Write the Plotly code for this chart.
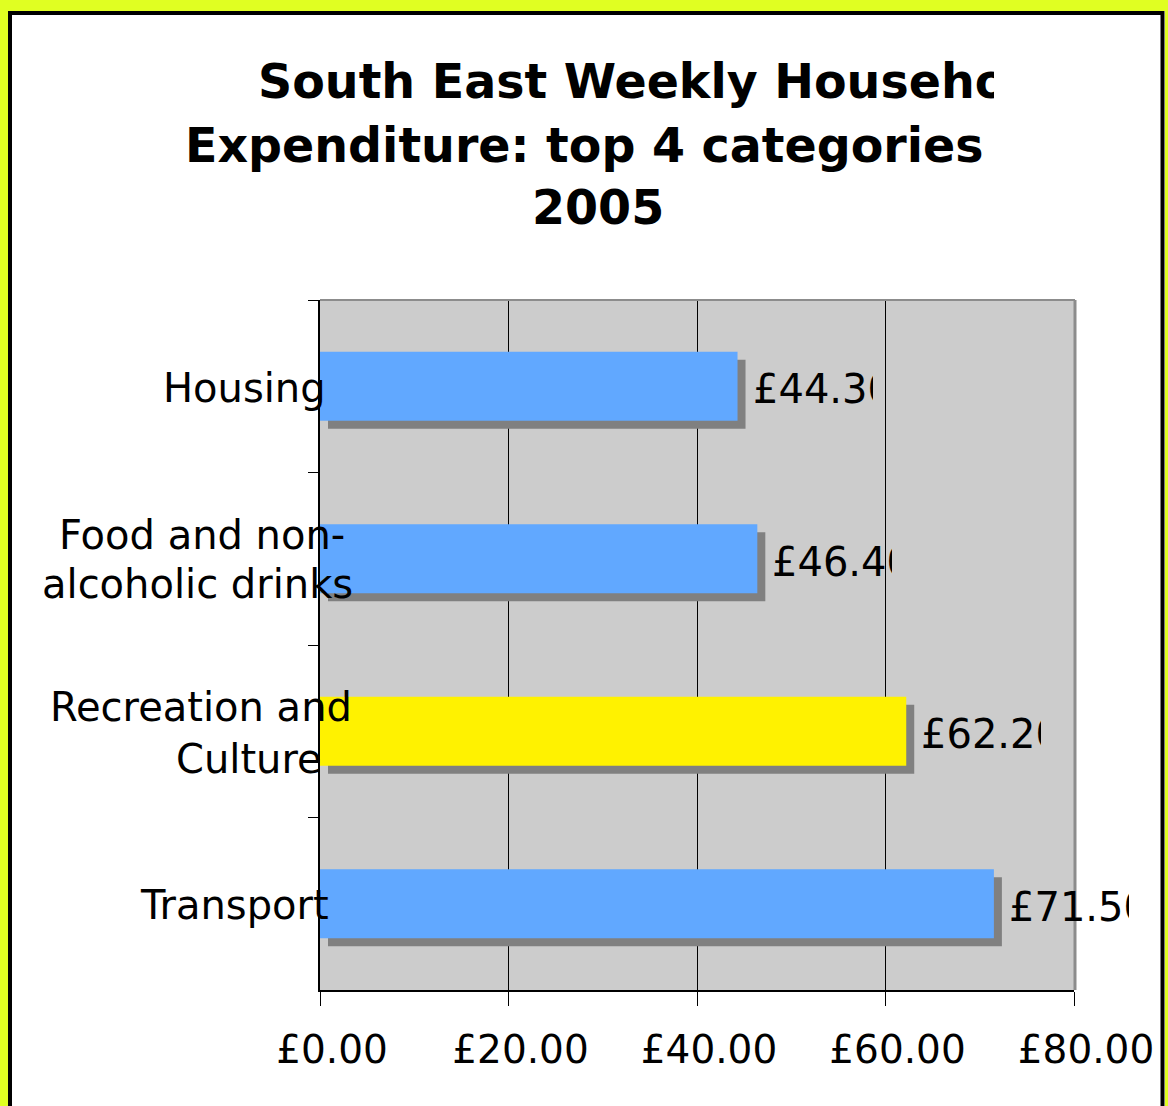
import plotly.graph_objects as go

# ---------------- data ----------------
categories = ["Housing", "Food and non-alcoholic drinks", "Recreation and Culture", "Transport"]
values = [44.30, 46.40, 62.20, 71.50]
bar_colors = ["#61A8FF", "#61A8FF", "#FFF200", "#61A8FF"]
label_lines = [["Housing"], ["Food and non-", "alcoholic drinks"], ["Recreation and", "Culture"], ["Transport"]]
x_ticks = [0, 20, 40, 60, 80]
x_tick_labels = ["£0.00", "£20.00", "£40.00", "£60.00", "£80.00"]
title_lines = ["South East Weekly Household", "Expenditure: top 4 categories", "2005"]

# ---------------- layout constants (pixels) ----------------
W, H = 1168, 1106
PL, PR, PT, PB = 320, 1074, 300, 990
XMAX = 80
FONT = "DejaVu Sans"
TITLE_SIZE = 47.5
px_per_unit = (PR - PL) / XMAX
band = (PB - PT) / len(categories)
shadow_dx = 8 / px_per_unit
shadow_dy = 8 / band


def px(x):
    return x / W


def py(y):
    return 1 - y / H


fig = go.Figure()
# shadow bars
fig.add_bar(y=categories, x=values, base=[shadow_dx] * len(values), orientation="h",
            marker=dict(color="#808080", line_width=0), width=0.4, offset=-0.2 + shadow_dy,
            hoverinfo="skip", showlegend=False)
# main bars
fig.add_bar(y=categories, x=values, orientation="h",
            marker=dict(color=bar_colors, line_width=0), width=0.4, offset=-0.2,
            showlegend=False)

annotations = []
# data labels (clipped like the original)
for c, v in zip(categories, values):
    annotations.append(dict(x=v, y=c, xref="x", yref="y", text=f"£{v:.2f}",
                            xanchor="left", yanchor="middle", xshift=14, yshift=-3,
                            width=120, align="left", showarrow=False, borderpad=0,
                            font=dict(family=FONT, size=40, color="black")))

# category labels
label_pos = [[(244, 388)], [(201.5, 535), (197.5, 584)], [(201, 707), (248.5, 758.5)], [(234.5, 905)]]
for lines, poss in zip(label_lines, label_pos):
    for t, (cx, cy) in zip(lines, poss):
        annotations.append(dict(x=px(cx), y=py(cy), xref="paper", yref="paper", text=t,
                                xanchor="center", yanchor="middle", showarrow=False, borderpad=0,
                                font=dict(family=FONT, size=40, color="black")))

# title lines
annotations.append(dict(x=px(257), y=py(81), xref="paper", yref="paper", text="<b>" + title_lines[0] + "</b>",
                        xanchor="left", yanchor="middle", width=993 - 257, align="left",
                        showarrow=False, borderpad=0, font=dict(family=FONT, size=TITLE_SIZE, color="black")))
annotations.append(dict(x=px(584.5), y=py(145.5), xref="paper", yref="paper", text="<b>" + title_lines[1] + "</b>",
                        xanchor="center", yanchor="middle", showarrow=False, borderpad=0,
                        font=dict(family=FONT, size=TITLE_SIZE, color="black")))
annotations.append(dict(x=px(597.5), y=py(207.5), xref="paper", yref="paper", text="<b>" + title_lines[2] + "</b>",
                        xanchor="center", yanchor="middle", showarrow=False, borderpad=0,
                        font=dict(family=FONT, size=TITLE_SIZE, color="black")))

shapes = [
    # plot area top and right borders (gray)
    dict(type="line", xref="paper", yref="paper", x0=px(PL), x1=px(PR + 1), y0=py(PT), y1=py(PT),
         line=dict(color="#8C8C8C", width=2), layer="above"),
    dict(type="line", xref="paper", yref="paper", x0=px(PR + 1), x1=px(PR + 1), y0=py(PT), y1=py(PB),
         line=dict(color="#8C8C8C", width=3), layer="above"),
    # yellow outer frame
    dict(type="rect", xref="paper", yref="paper", x0=0, x1=px(8), y0=0, y1=1,
         fillcolor="#E0FF22", line_width=0, layer="above"),
    dict(type="rect", xref="paper", yref="paper", x0=px(1165), x1=1, y0=0, y1=1,
         fillcolor="#E0FF22", line_width=0, layer="above"),
    dict(type="rect", xref="paper", yref="paper", x0=0, x1=1, y0=py(11), y1=1,
         fillcolor="#E0FF22", line_width=0, layer="above"),
    # black frame line
    dict(type="rect", xref="paper", yref="paper", x0=px(10), x1=px(1162.5), y0=py(1130), y1=py(13),
         fillcolor="rgba(0,0,0,0)", line=dict(color="black", width=4), layer="above"),
]

fig.update_layout(
    template="none",
    width=W, height=H,
    margin=dict(l=0, r=0, t=0, b=0, pad=0, autoexpand=False),
    paper_bgcolor="white",
    plot_bgcolor="#CCCCCC",
    barmode="overlay",
    showlegend=False,
    annotations=annotations,
    shapes=shapes,
    xaxis=dict(domain=[px(PL), px(PR)], range=[0, XMAX], tickmode="array", tickvals=x_ticks,
               ticktext=x_tick_labels, showgrid=True, gridcolor="black", gridwidth=1,
               showline=True, linecolor="black", linewidth=2, zeroline=False,
               ticks="outside", ticklen=14, tickcolor="black", tickwidth=1,
               tickfont=dict(family=FONT, size=39, color="black"), automargin=False,
               ticklabelshift=12, ticklabelstandoff=10, fixedrange=True),
    yaxis=dict(domain=[py(PB), py(PT)], type="category", categoryorder="array",
               categoryarray=categories, range=[len(categories) - 0.5, -0.5],
               showticklabels=False, ticks="outside", tickson="boundaries", ticklen=10,
               tickcolor="black", tickwidth=1, showgrid=False, automargin=False,
               showline=True, linecolor="black", linewidth=2, zeroline=False, fixedrange=True),
)

fig.write_html("out.html", config={"displayModeBar": False},
               post_script="document.body.style.margin='0';")
